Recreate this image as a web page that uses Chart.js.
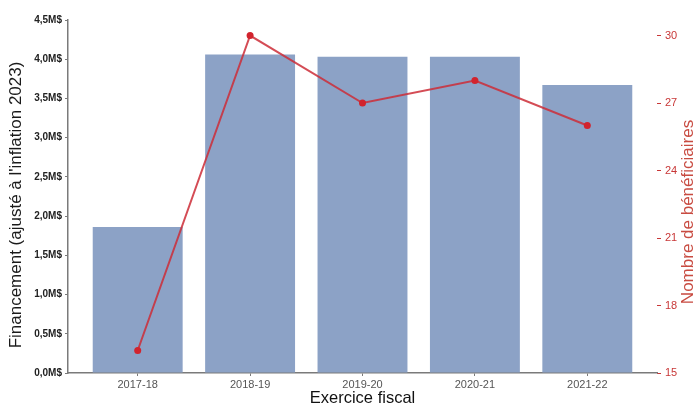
<!DOCTYPE html>
<html>
  <head>
    <meta charset="utf-8" />
    <script src="https://cdn.jsdelivr.net/npm/chart.js"></script>
    <style>
      html, body { margin: 0; padding: 0; background: #fff; }
    </style>
  </head>
  <body>
    <canvas id="combo" width="700" height="408"></canvas>
    <script>
      const years = ["2017-18", "2018-19", "2019-20", "2020-21", "2021-22"];
      const funding = [1.86, 4.06, 4.03, 4.03, 3.67]; // millions $
      const recipients = [16, 30, 27, 28, 26];

      const red = "rgb(200,55,55)";
      const axisGray = "#7a7a7a";

      // both vertical axis titles read bottom-to-top, so draw them by hand
      const sideTitles = {
        id: "sideTitles",
        afterDraw(chart) {
          const ctx = chart.ctx;
          const draw = (text, x, y, color) => {
            ctx.save();
            ctx.translate(x, y);
            ctx.rotate(-Math.PI / 2);
            ctx.textAlign = "center";
            ctx.textBaseline = "middle";
            ctx.font = "17px 'Liberation Sans'";
            ctx.fillStyle = color;
            ctx.fillText(text, 0, 0);
            ctx.restore();
          };
          draw("Financement (ajusté à l'inflation 2023)", 16, 205, "#1a1a1a");
          draw("Nombre de bénéficiaires", 688, 212, "rgb(200,75,65)");
        },
      };

      new Chart(document.getElementById("combo"), {
        data: {
          datasets: [
            {
              type: "line",
              label: "Nombre de bénéficiaires",
              data: recipients.map((v, i) => ({ x: i, y: v })),
              yAxisID: "y2",
              borderColor: "rgba(205,45,55,0.85)",
              backgroundColor: "rgb(210,35,45)",
              borderWidth: 2,
              pointRadius: 3.5,
              pointBorderWidth: 0,
              tension: 0,
              order: 0,
            },
            {
              type: "bar",
              label: "Financement",
              data: funding.map((v, i) => ({ x: i, y: v })),
              yAxisID: "y",
              backgroundColor: "rgb(140,162,198)",
              barPercentage: 1,
              categoryPercentage: 0.8,
              order: 1,
            },
          ],
        },
        plugins: [sideTitles],
        options: {
          responsive: false,
          animation: false,
          layout: { padding: { top: 20 } },
          plugins: { legend: { display: false }, tooltip: { enabled: false } },
          scales: {
            x: {
              type: "linear",
              min: -0.62,
              max: 4.62,
              offset: false,
              afterFit: (s) => { s.height = 35; },
              border: { display: true, color: axisGray, width: 1.5 },
              grid: { offset: false, drawOnChartArea: false, drawTicks: true, tickLength: 3, color: axisGray },
              ticks: {
                stepSize: 1,
                includeBounds: false,
                autoSkip: false,
                maxRotation: 0,
                padding: 2,
                color: "#555",
                font: { family: "Liberation Sans Narrow, Liberation Sans", size: 11 },
                callback: (v) => years[v] ?? "",
              },
              title: {
                display: true,
                text: "Exercice fiscal",
                color: "#111",
                padding: { top: 0, bottom: 0 },
                font: { family: "Liberation Sans", size: 16.5 },
              },
            },
            y: {
              position: "left",
              min: 0,
              max: 4.5,
              afterFit: (s) => { s.width = 68; },
              border: { display: true, color: axisGray, width: 1.5 },
              grid: { drawOnChartArea: false, drawTicks: true, tickLength: 3, color: axisGray },
              ticks: {
                stepSize: 0.5,
                padding: 3,
                color: "#222",
                font: { family: "Liberation Sans", size: 10, weight: "bold" },
                callback: (v) => v.toFixed(1).replace(".", ",") + "M$",
              },
            },
            y2: {
              position: "right",
              min: 15,
              max: 30.69,
              afterFit: (s) => { s.width = 43; },
              border: { display: false },
              grid: { drawOnChartArea: false, drawTicks: true, tickLength: 4, color: red },
              ticks: {
                stepSize: 3,
                includeBounds: false,
                padding: 4,
                color: red,
                font: { family: "Liberation Sans Narrow, Liberation Sans", size: 11 },
              },
            },
          },
        },
      });
    </script>
  </body>
</html>
